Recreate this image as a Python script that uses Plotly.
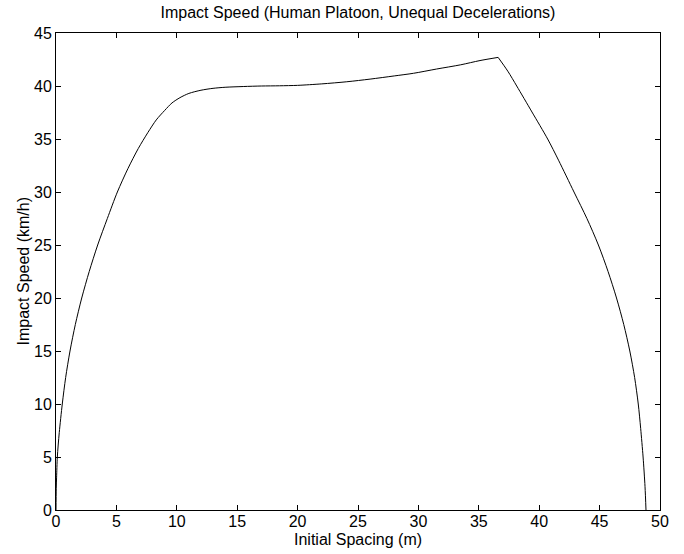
import plotly.graph_objects as go

spacing_m = [0, 0.02, 0.05, 0.11, 0.27, 0.52, 0.8, 1.16, 1.6, 2.13, 2.75, 3.45, 4.25, 5.08,
             5.95, 6.81, 7.6, 8.3, 9.0, 9.6, 10.26, 11.0, 12.0, 13.0, 14.0, 15.5, 17.0,
             18.5, 20.0, 22.0, 24.07, 26.0, 28.0, 29.6, 31.5, 33.5, 35.1, 36.6,
             37.4, 38.14, 39.4, 40.7, 41.6, 42.88, 43.95, 44.9, 45.7, 46.4, 47.0, 47.5,
             47.9, 48.2, 48.4, 48.6, 48.76, 48.84]
impact_kmh = [0, 2.0, 3.1, 5.0, 7.3, 10.0, 12.5, 15.0, 17.5, 20.0, 22.5, 25.0, 27.5, 30.0,
              32.2, 34.1, 35.6, 36.8, 37.7, 38.4, 38.9, 39.3, 39.6, 39.78, 39.88, 39.95, 40.0,
              40.02, 40.06, 40.2, 40.4, 40.65, 40.95, 41.2, 41.6, 42.0, 42.4, 42.7,
              41.4, 40.0, 37.55, 35.0, 33.0, 30.0, 27.5, 25.0, 22.5, 20.0, 17.5, 15.0,
              12.5, 10.0, 7.7, 5.0, 2.2, 0]

x_ticks = [0, 5, 10, 15, 20, 25, 30, 35, 40, 45, 50]
y_ticks = [0, 5, 10, 15, 20, 25, 30, 35, 40, 45]

title_text = "Impact Speed (Human Platoon, Unequal Decelerations)"
x_title = "Initial Spacing (m)"
y_title = "Impact Speed (km/h)"

# split at the peak so the corner stays sharp while each branch is smooth
peak = impact_kmh.index(max(impact_kmh))

fig = go.Figure()
for xs, ys in [(spacing_m[:peak + 1], impact_kmh[:peak + 1]),
               (spacing_m[peak:], impact_kmh[peak:])]:
    fig.add_trace(go.Scatter(x=xs, y=ys, mode="lines",
                             line=dict(color="black", width=1, shape="spline", smoothing=0.8),
                             showlegend=False, hoverinfo="skip"))

font_family = "Liberation Sans, Arial, Helvetica, sans-serif"
axis_common = dict(
    showline=True, linecolor="black", linewidth=1, mirror="ticks",
    ticks="inside", ticklen=5, tickcolor="black", tickwidth=1,
    showgrid=False, zeroline=False,
    tickfont=dict(family=font_family, size=16, color="black"),
)

fig.update_layout(
    width=684, height=554,
    margin=dict(l=56, r=24, t=33, b=44),
    paper_bgcolor="white", plot_bgcolor="white",
    title=dict(text=title_text,
               x=0.5, xref="paper", xanchor="center", y=1 - 12/554, yanchor="middle",
               font=dict(family=font_family, size=16, color="black")),
    xaxis=dict(range=[0, 50], tickvals=x_ticks, ticktext=[str(v) for v in x_ticks],
               ticklabelstandoff=-3, **axis_common),
    yaxis=dict(range=[0, 45], tickvals=y_ticks, ticktext=[str(v) for v in y_ticks],
               **axis_common),
    annotations=[
        dict(text=x_title, xref="paper", yref="paper", x=0.5, y=0,
             xanchor="center", yanchor="middle", yshift=-29, showarrow=False,
             font=dict(family=font_family, size=16, color="black")),
        dict(text=y_title, xref="paper", yref="paper", x=0, y=0.5,
             xanchor="center", yanchor="middle", xshift=-33, textangle=-90,
             showarrow=False,
             font=dict(family=font_family, size=16, color="black")),
    ],
)

fig.write_html("out.html", config={"displayModeBar": False},
               post_script="document.body.style.margin='0';")
